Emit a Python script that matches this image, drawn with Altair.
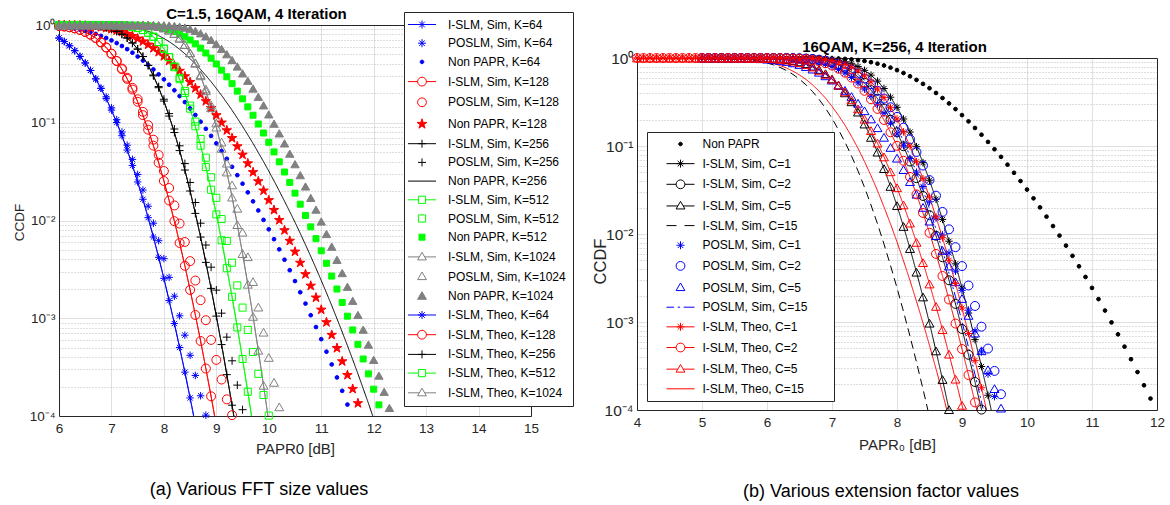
import altair as alt
import pandas as pd

# ---------------- shared x grids (dB) ----------------
XA = [6.0, 6.1, 6.2, 6.3, 6.4, 6.5, 6.6, 6.7, 6.8, 6.9, 7.0, 7.1, 7.2, 7.3, 7.4, 7.5, 7.6, 7.7, 7.8, 7.9,
      8.0, 8.1, 8.2, 8.3, 8.4, 8.5, 8.6, 8.7, 8.8, 8.9, 9.0, 9.1, 9.2, 9.3, 9.4, 9.5, 9.6, 9.7, 9.8, 9.9,
      10.0, 10.1, 10.2, 10.3, 10.4, 10.5, 10.6, 10.7, 10.8, 10.9, 11.0, 11.1, 11.2, 11.3, 11.4, 11.5, 11.6,
      11.7, 11.8, 11.9, 12.0, 12.1, 12.2, 12.3, 12.4]
XB = [4.0, 4.1, 4.2, 4.3, 4.4, 4.5, 4.6, 4.7, 4.8, 4.9, 5.0, 5.1, 5.2, 5.3, 5.4, 5.5, 5.6, 5.7, 5.8, 5.9,
      6.0, 6.1, 6.2, 6.3, 6.4, 6.5, 6.6, 6.7, 6.8, 6.9, 7.0, 7.1, 7.2, 7.3, 7.4, 7.5, 7.6, 7.7, 7.8, 7.9,
      8.0, 8.1, 8.2, 8.3, 8.4, 8.5, 8.6, 8.7, 8.8, 8.9, 9.0, 9.1, 9.2, 9.3, 9.4, 9.5, 9.6, 9.7, 9.8, 9.9,
      10.0, 10.1, 10.2, 10.3, 10.4, 10.5, 10.6, 10.7, 10.8, 10.9, 11.0, 11.1, 11.2, 11.3, 11.4, 11.5, 11.6,
      11.7, 11.8, 11.9, 12.0]

# ---------------- panel (a): CCDF values, starting at 6.0 dB ----------------
A_SLM_64 = [0.736, 0.678, 0.613, 0.546, 0.477, 0.409, 0.343, 0.281, 0.225, 0.1767, 0.1347, 0.1005, 0.0737,
            0.0526, 0.0366, 0.0248, 0.01648, 0.0107, 0.00677, 0.0042, 0.00256, 0.001516, 0.000883, 0.000502,
            0.000281, 0.000153, 0.000082]
A_POS_64 = [0.736, 0.678, 0.613, 0.546, 0.477, 0.409, 0.343, 0.281, 0.225, 0.1838, 0.142, 0.1076, 0.0805,
            0.0589, 0.0422, 0.0296, 0.0205, 0.0140, 0.00938, 0.00621, 0.00407, 0.00262, 0.00168, 0.00106,
            0.000671, 0.000418, 0.00026, 0.000161, 0.000102]
A_NP_64 = [0.9646, 0.9525, 0.937, 0.919, 0.897, 0.872, 0.843, 0.811, 0.775, 0.737, 0.696, 0.653, 0.610, 0.566,
           0.521, 0.476, 0.433, 0.391, 0.351, 0.313, 0.278, 0.245, 0.215, 0.1874, 0.1626, 0.1402, 0.1201,
           0.1025, 0.0868, 0.0734, 0.0615, 0.0514, 0.0428, 0.0354, 0.0291, 0.0238, 0.0194, 0.0157, 0.01266,
           0.01015, 0.00813, 0.00644, 0.00507, 0.00397, 0.0031, 0.0024, 0.001845, 0.001413, 0.001074,
           0.000813, 0.000611, 0.000455, 0.000337, 0.000248, 0.000181, 0.000131]
A_SLM_128 = [0.9786, 0.966, 0.948, 0.9235, 0.890, 0.8486, 0.7968, 0.7359, 0.6649, 0.5894, 0.5089, 0.4285,
             0.3525, 0.281, 0.2185, 0.164, 0.1196, 0.0849, 0.0583, 0.0390, 0.02537, 0.0160, 0.00984, 0.00589,
             0.00344, 0.00195, 0.00108, 0.000585, 0.000306, 0.000159, 0.0000798]
A_POS_128 = [0.9786, 0.966, 0.948, 0.9235, 0.890, 0.8486, 0.7968, 0.7359, 0.6649, 0.5894, 0.5089, 0.4285,
             0.359, 0.289, 0.2277, 0.174, 0.1294, 0.0944, 0.0671, 0.0468, 0.0321, 0.0215, 0.01426, 0.0093,
             0.00603, 0.00384, 0.00243, 0.00153, 0.000955, 0.0006, 0.000375, 0.000236, 0.000148, 0.000102]
A_NP_128 = [0.9987, 0.9978, 0.996, 0.9934, 0.9894, 0.9836, 0.9754, 0.9644, 0.9495, 0.931, 0.9077, 0.8797,
            0.848, 0.811, 0.7705, 0.7258, 0.6786, 0.6296, 0.579, 0.5284, 0.4788, 0.4301, 0.3838, 0.3396,
            0.2987, 0.2607, 0.2258, 0.1945, 0.1661, 0.1414, 0.1194, 0.1003, 0.0836, 0.0696, 0.0573, 0.0471,
            0.0384, 0.0312, 0.02515, 0.02021, 0.01613, 0.0128, 0.01009, 0.00794, 0.00619, 0.0048, 0.00369,
            0.00282, 0.00215, 0.001626, 0.001222, 0.00091, 0.000675, 0.000495, 0.000362, 0.000262,
            0.000189, 0.000135]
A_SLM_256 = [0.9999, 0.9997, 0.9993, 0.9984, 0.9967, 0.9936, 0.9879, 0.9784, 0.9629, 0.9401, 0.9069, 0.8619,
             0.8053, 0.7359, 0.6555, 0.5669, 0.4755, 0.386, 0.302, 0.2283, 0.1667, 0.117, 0.0794, 0.0519,
             0.03284, 0.02003, 0.01182, 0.00677, 0.00373, 0.00202, 0.001052, 0.000538, 0.000265, 0.000129,
             0.0000605]
A_POS_256 = [0.9999, 0.9997, 0.9993, 0.9984, 0.9967, 0.9936, 0.9879, 0.9784, 0.9629, 0.9401, 0.9069, 0.8619,
             0.8053, 0.7359, 0.6555, 0.5669, 0.4755, 0.386, 0.308, 0.2345, 0.174, 0.124, 0.0863, 0.0581,
             0.0382, 0.0245, 0.01528, 0.00938, 0.00561, 0.00333, 0.00194, 0.001127, 0.000641, 0.000367,
             0.000207, 0.000116]
A_NP_256 = [1.0, 1.0, 1.0, 1.0, 0.9999, 0.9997, 0.9994, 0.9987, 0.9974, 0.9953, 0.9915, 0.9855, 0.9769,
            0.9644, 0.9473, 0.9248, 0.8967, 0.8628, 0.8227, 0.7776, 0.7283, 0.6753, 0.6202, 0.564, 0.5082,
            0.4534, 0.4005, 0.351, 0.3045, 0.2627, 0.2244, 0.1905, 0.1602, 0.1343, 0.1113, 0.0919, 0.0753,
            0.0614, 0.0496, 0.0400, 0.0320, 0.02543, 0.02008, 0.01576, 0.01231, 0.0096, 0.00738, 0.00565,
            0.0043, 0.00325, 0.00244, 0.00182, 0.00135, 0.00099, 0.000724, 0.000525, 0.000378, 0.00027,
            0.000191, 0.000135, 0.000094]
A_SLM_512 = [1.0, 1.0, 1.0, 1.0, 1.0, 1.0, 1.0, 0.9999, 0.9996, 0.9991, 0.9977, 0.9947, 0.989, 0.9784, 0.9604,
             0.9318, 0.8897, 0.8325, 0.7581, 0.6696, 0.5718, 0.4691, 0.3702, 0.2789, 0.2016, 0.1394, 0.092,
             0.0583, 0.0352, 0.02063, 0.01155, 0.00627, 0.00325, 0.001658, 0.000806, 0.000383, 0.000177,
             0.000079]
A_POS_512 = [1.0, 1.0, 1.0, 1.0, 1.0, 1.0, 1.0, 0.9999, 0.9996, 0.9991, 0.9977, 0.9947, 0.989, 0.9784, 0.9604,
             0.9318, 0.8897, 0.8325, 0.7581, 0.6696, 0.5718, 0.4691, 0.3773, 0.2877, 0.2118, 0.150, 0.1028,
             0.0683, 0.0439, 0.0277, 0.01706, 0.01035, 0.00618, 0.0037, 0.00217, 0.001285, 0.00076,
             0.000452, 0.00027, 0.000164, 0.000101]
A_NP_512 = [1.0, 1.0, 1.0, 1.0, 1.0, 1.0, 1.0, 1.0, 1.0, 1.0, 0.9999, 0.9998, 0.9995, 0.9987, 0.9973, 0.9944,
            0.9894, 0.9813, 0.9688, 0.9508, 0.9266, 0.895, 0.8564, 0.8105, 0.7588, 0.7021, 0.6416, 0.5798,
            0.517, 0.4571, 0.3991, 0.3453, 0.2952, 0.2510, 0.2107, 0.1757, 0.1453, 0.1194, 0.0971, 0.0785,
            0.0631, 0.0503, 0.0398, 0.03134, 0.02452, 0.01905, 0.01468, 0.01126, 0.00861, 0.00652, 0.0049,
            0.00365, 0.0027, 0.00199, 0.00145, 0.00105, 0.000759, 0.000541, 0.000383, 0.00027, 0.000188,
            0.00013]
A_SLM_1024 = [1.0, 1.0, 1.0, 1.0, 1.0, 1.0, 1.0, 1.0, 1.0, 1.0, 1.0, 1.0, 1.0, 0.9999, 0.9996, 0.9988, 0.9967,
              0.992, 0.9822, 0.9641, 0.9337, 0.8864, 0.8197, 0.733, 0.6308, 0.5186, 0.4057, 0.302, 0.2121,
              0.1424, 0.09025, 0.05465, 0.0313, 0.01734, 0.00907, 0.00458, 0.002226, 0.001045, 0.00047,
              0.000206, 0.000087]
A_POS_1024 = [1.0, 1.0, 1.0, 1.0, 1.0, 1.0, 1.0, 1.0, 1.0, 1.0, 1.0, 1.0, 1.0, 0.9999, 0.9996, 0.9988, 0.9967,
              0.992, 0.9822, 0.9641, 0.9337, 0.8864, 0.8197, 0.733, 0.6308, 0.5186, 0.411, 0.3097, 0.2213,
              0.152, 0.0997, 0.0634, 0.0386, 0.0231, 0.01333, 0.00759, 0.00426, 0.00237, 0.0013, 0.00072,
              0.000397, 0.000221, 0.000124]
A_NP_1024 = [1.0, 1.0, 1.0, 1.0, 1.0, 1.0, 1.0, 1.0, 1.0, 1.0, 1.0, 1.0, 1.0, 1.0, 1.0, 1.0, 0.9999, 0.9996,
             0.999, 0.9975, 0.9945, 0.9889, 0.9792, 0.9638, 0.9415, 0.9106, 0.8708, 0.8227, 0.766, 0.7045,
             0.638, 0.5706, 0.5025, 0.4383, 0.3763, 0.3199, 0.269, 0.2239, 0.1843, 0.1507, 0.1219, 0.0979,
             0.0779, 0.0615, 0.0483, 0.0377, 0.0291, 0.0223, 0.01703, 0.01292, 0.00977, 0.00728, 0.0054,
             0.00396, 0.0029, 0.0021, 0.00151, 0.00108, 0.000764, 0.000538, 0.000375, 0.000259, 0.000177,
             0.000121]

# ---------------- panel (b): CCDF values ----------------
B_NP = [1.0, 1.0, 1.0, 1.0, 1.0, 1.0, 1.0, 1.0, 1.0, 1.0, 1.0, 1.0, 1.0, 1.0, 0.9999, 0.9997, 0.9994, 0.9987,
        0.9974, 0.9953, 0.9915, 0.9855, 0.9769, 0.9644, 0.9473, 0.9248, 0.8967, 0.8628, 0.8227, 0.7776, 0.7283,
        0.6753, 0.6202, 0.564, 0.5082, 0.4534, 0.4005, 0.351, 0.3045, 0.2627, 0.2244, 0.1905, 0.1602, 0.1343,
        0.1113, 0.0919, 0.0753, 0.0614, 0.0496, 0.0400, 0.0320, 0.02543, 0.02008, 0.01576, 0.01231, 0.0096,
        0.00738, 0.00565, 0.0043, 0.00325, 0.00244, 0.00182, 0.00135, 0.00099, 0.000724, 0.000525, 0.000378,
        0.00027, 0.000191, 0.000135]
B_SIM_1 = [1.0, 1.0, 1.0, 1.0, 1.0, 1.0, 1.0, 1.0, 1.0, 1.0, 1.0, 1.0, 1.0, 0.9998, 0.9995, 0.9988, 0.9974,
           0.9945, 0.9891, 0.9799, 0.9645, 0.9406, 0.9069, 0.86, 0.7995, 0.7245, 0.6388, 0.546, 0.4502, 0.3583,
           0.2751, 0.2028, 0.144, 0.0981, 0.06463, 0.04083, 0.02484, 0.01465, 0.008274, 0.00458, 0.002433,
           0.001263, 0.000631, 0.000312, 0.000147, 0.000068]
B_SIM_2 = [1.0, 1.0, 1.0, 1.0, 1.0, 1.0, 1.0, 1.0, 1.0, 0.9998, 0.9998, 0.9995, 0.9988, 0.9974, 0.9949, 0.9904,
           0.9826, 0.9702, 0.9506, 0.9228, 0.8835, 0.8325, 0.7702, 0.6952, 0.6118, 0.522, 0.4313, 0.3454,
           0.2667, 0.1989, 0.1432, 0.09933, 0.0667, 0.04309, 0.02704, 0.01635, 0.00956, 0.00544, 0.00298,
           0.001606, 0.000833, 0.000424, 0.000208, 0.000101, 0.000047]
B_SIM_5 = [1.0, 1.0, 1.0, 1.0, 1.0, 0.9997, 0.9994, 0.9988, 0.9975, 0.9953, 0.9913, 0.9849, 0.9743, 0.9585,
           0.9356, 0.9036, 0.861, 0.8069, 0.7398, 0.6634, 0.5781, 0.4888, 0.4015, 0.3178, 0.2427, 0.1775,
           0.1253, 0.0851, 0.0553, 0.0347, 0.02098, 0.01218, 0.00683, 0.00368, 0.001924, 0.000969, 0.000469,
           0.000222, 0.000101, 0.000045]
B_SIM_15 = [0.9988, 0.9978, 0.9962, 0.9935, 0.989, 0.9825, 0.9727, 0.959, 0.9391, 0.9133, 0.8782, 0.8352,
            0.7815, 0.7196, 0.6502, 0.5742, 0.4956, 0.4165, 0.3389, 0.2691, 0.2060, 0.1528, 0.1108, 0.0772,
            0.0521, 0.0339, 0.02134, 0.01305, 0.00768, 0.00439, 0.002445, 0.001314, 0.00069, 0.000349,
            0.000173, 0.000083]
B_POS_1 = [1.0, 1.0, 1.0, 1.0, 1.0, 1.0, 1.0, 0.9998, 0.9996, 0.9991, 0.9982, 0.9966, 0.9936, 0.9888, 0.981,
           0.9693, 0.9521, 0.9281, 0.8953, 0.8541, 0.8025, 0.7415, 0.674, 0.5999, 0.5224, 0.4438, 0.3684,
           0.2988, 0.2357, 0.1817, 0.1369, 0.1005, 0.07215, 0.05045, 0.03465, 0.0232, 0.01516, 0.00976, 0.0061,
           0.00378, 0.00229, 0.001364, 0.000791, 0.000458, 0.000256, 0.000142]
B_POS_2 = [1.0, 1.0, 1.0, 1.0, 1.0, 1.0, 1.0, 1.0, 1.0, 0.9999, 0.9997, 0.9994, 0.9987, 0.9973, 0.9949, 0.9905,
           0.9834, 0.9721, 0.9547, 0.9305, 0.8968, 0.8532, 0.8001, 0.7363, 0.6646, 0.5853, 0.5042, 0.4234,
           0.3461, 0.2756, 0.2142, 0.1617, 0.1192, 0.08548, 0.05996, 0.04099, 0.02727, 0.01782, 0.0113,
           0.00709, 0.00432, 0.0026, 0.001521, 0.000885, 0.000499, 0.000278, 0.000151]
B_POS_5 = [0.9999, 0.9998, 0.9996, 0.9992, 0.9985, 0.9973, 0.9953, 0.9923, 0.9875, 0.9806, 0.9704, 0.9564,
           0.9372, 0.9127, 0.8815, 0.8438, 0.7989, 0.7475, 0.6889, 0.6271, 0.561, 0.4939, 0.4287, 0.3651,
           0.306, 0.2514, 0.2029, 0.1613, 0.1255, 0.0963, 0.0727, 0.0539, 0.0394, 0.0283, 0.02006, 0.01399,
           0.00958, 0.0065, 0.00432, 0.00286, 0.00185, 0.00119, 0.000749, 0.000471, 0.000287, 0.000175,
           0.000105]
B_POS_15 = [1.0, 1.0, 1.0, 1.0, 1.0, 1.0, 1.0, 1.0, 1.0, 1.0, 0.9999, 0.9997, 0.9992, 0.9983, 0.9965, 0.993,
            0.9871, 0.977, 0.9609, 0.9372, 0.903, 0.8569, 0.7995, 0.7286, 0.648, 0.5591, 0.4676, 0.3788,
            0.2955, 0.2225, 0.1623, 0.1136, 0.07702, 0.05018, 0.03175, 0.01934, 0.01138, 0.006514, 0.00358,
            0.001938, 0.001009, 0.000516, 0.000254, 0.000123, 0.000058]
B_THEO_1 = [1.0, 1.0, 1.0, 1.0, 1.0, 1.0, 1.0, 1.0, 1.0, 1.0, 1.0, 1.0, 1.0, 1.0, 1.0, 1.0, 1.0, 1.0, 1.0,
            1.0, 1.0, 0.9999, 0.9997, 0.9992, 0.9983, 0.9964, 0.9929, 0.9866, 0.9757, 0.9588, 0.933, 0.8965,
            0.8486, 0.7868, 0.713, 0.6277, 0.5361, 0.4438, 0.3541, 0.2725, 0.2028, 0.1448, 0.0999, 0.06624,
            0.04252, 0.02627, 0.01565, 0.00907, 0.00503, 0.002746, 0.001443, 0.000741, 0.000366, 0.000179,
            0.000084]
B_THEO_2 = [1.0, 1.0, 1.0, 1.0, 1.0, 1.0, 1.0, 1.0, 1.0, 1.0, 1.0, 1.0, 1.0, 1.0, 1.0, 1.0, 1.0, 1.0, 1.0,
            0.9996, 0.9992, 0.9983, 0.9965, 0.9933, 0.9877, 0.9786, 0.9645, 0.9434, 0.9129, 0.8726, 0.8197,
            0.7552, 0.6818, 0.5989, 0.5122, 0.4237, 0.3398, 0.2641, 0.1977, 0.1432, 0.1005, 0.06797, 0.04458,
            0.0282, 0.01734, 0.01032, 0.00594, 0.003334, 0.001801, 0.00096, 0.000493, 0.00025, 0.000122,
            0.000059]
B_THEO_5 = [1.0, 1.0, 1.0, 1.0, 1.0, 1.0, 1.0, 1.0, 1.0, 1.0, 1.0, 1.0, 1.0, 1.0, 0.9997, 0.9994, 0.9988,
            0.9978, 0.9958, 0.9925, 0.9871, 0.9786, 0.9656, 0.9471, 0.9214, 0.8871, 0.8433, 0.7894, 0.7245,
            0.6526, 0.5734, 0.4915, 0.4114, 0.3345, 0.2641, 0.2016, 0.1496, 0.1078, 0.0751, 0.05086, 0.03353,
            0.02138, 0.0133, 0.008025, 0.004727, 0.002702, 0.001503, 0.00082, 0.000431, 0.000224, 0.000113,
            0.000056]
B_THEO_15 = [1.0, 1.0, 1.0, 1.0, 1.0, 1.0, 1.0, 1.0, 0.9997, 0.9995, 0.999, 0.9982, 0.9969, 0.9948, 0.9912,
             0.986, 0.978, 0.967, 0.951, 0.930, 0.9013, 0.8658, 0.821, 0.7686, 0.7087, 0.6416, 0.5703, 0.4962,
             0.4208, 0.3499, 0.2826, 0.2225, 0.172, 0.1288, 0.0941, 0.0667, 0.04607, 0.03109, 0.02033, 0.0130,
             0.00814, 0.004954, 0.002957, 0.001715, 0.000977, 0.000542, 0.000294, 0.000156, 0.00008]

# ---------------- styles ----------------
BLUE, RED, BLACK, GREEN, GRAY = "#0000ff", "#ff0000", "#000000", "#00ff00", "#808080"

M_AST = "M-1,0L1,0M0,-1L0,1M-0.7,-0.7L0.7,0.7M-0.7,0.7L0.7,-0.7"
M_PLUS = "M-1,0L1,0M0,-1L0,1"
M_STAR = ("M0,-1L0.2245,-0.309L0.951,-0.309L0.363,0.118L0.588,0.809L0,0.382L-0.588,0.809"
          "L-0.363,0.118L-0.951,-0.309L-0.2245,-0.309Z")


def circ(r):
    return f"M{-r},0A{r},{r},0,1,1,{r},0A{r},{r},0,1,1,{-r},0Z"


LG_LINE = "M-3.5,0L3.5,0"
LG_AST = "M-1,0L1,0M0,-1L0,1M-0.7,-0.7L0.7,0.7M-0.7,0.7L0.7,-0.7"
LG_PLUS = "M-1,0L1,0M0,-1L0,1"
LG_CIRC = circ(1.1)
LG_SQ = "M-0.9,-0.9L0.9,-0.9L0.9,0.9L-0.9,0.9Z"
LG_TRI = "M0,-1.15L1.1,0.75L-1.1,0.75Z"
LG_DOT = circ(0.45)
LG_FSQ = "M-0.75,-0.75L0.75,-0.75L0.75,0.75L-0.75,0.75Z"
LG_STAR = ("M0,-1.3L0.29,-0.4L1.24,-0.4L0.47,0.15L0.76,1.05L0,0.5L-0.76,1.05L-0.47,0.15"
           "L-1.24,-0.4L-0.29,-0.4Z")
LG_L_AST = LG_LINE + LG_AST
LG_L_PLUS = LG_LINE + LG_PLUS
LG_L_CIRC = "M-3.5,0L-1.1,0M1.1,0L3.5,0" + LG_CIRC
LG_L_SQ = "M-3.5,0L-0.9,0M0.9,0L3.5,0" + LG_SQ
LG_L_TRI = "M-3.5,0L-0.67,0M0.67,0L3.5,0" + LG_TRI
LG_DASH = "M-3.5,0L-1,0M1,0L3.5,0"
LG_DASHDOT = "M-3.5,0L-1.6,0M-0.7,0L-0.1,0M0.8,0L3.5,0"

SOLID, DASH, DASHDOT = [1, 0], [8, 5], [8, 3, 2, 3]

# marker spec: (shape, size, filled)
MK = {
    "ast": (M_AST, 56, False), "circ": ("circle", 80, False), "plus": (M_PLUS, 64, False),
    "sq": ("square", 50, False), "tri": ("triangle-up", 80, False), "dot": ("circle", 14, True),
    "star": (M_STAR, 100, True), "fsq": ("square", 36, True), "ftri": ("triangle-up", 70, True),
}

# series: (name, color, start x, values, line dash or None, marker or None, legend path, legend filled)
A_SERIES = [
    ("I-SLM, Sim, K=64", BLUE, 6.0, A_SLM_64, SOLID, "ast", LG_L_AST, False),
    ("POSLM, Sim, K=64", BLUE, 6.0, A_POS_64, None, "ast", LG_AST, False),
    ("Non PAPR, K=64", BLUE, 6.0, A_NP_64, None, "dot", LG_DOT, True),
    ("I-SLM, Sim, K=128", RED, 6.0, A_SLM_128, SOLID, "circ", LG_L_CIRC, False),
    ("POSLM, Sim, K=128", RED, 6.0, A_POS_128, None, "circ", LG_CIRC, False),
    ("Non PAPR, K=128", RED, 6.0, A_NP_128, None, "star", LG_STAR, True),
    ("I-SLM, Sim, K=256", BLACK, 6.0, A_SLM_256, SOLID, "plus", LG_L_PLUS, False),
    ("POSLM, Sim, K=256", BLACK, 6.0, A_POS_256, None, "plus", LG_PLUS, False),
    ("Non PAPR, K=256", BLACK, 6.0, A_NP_256, SOLID, None, LG_LINE, False),
    ("I-SLM, Sim, K=512", GREEN, 6.0, A_SLM_512, SOLID, "sq", LG_L_SQ, False),
    ("POSLM, Sim, K=512", GREEN, 6.0, A_POS_512, None, "sq", LG_SQ, False),
    ("Non PAPR, K=512", GREEN, 6.0, A_NP_512, None, "fsq", LG_FSQ, True),
    ("I-SLM, Sim, K=1024", GRAY, 6.0, A_SLM_1024, SOLID, "tri", LG_L_TRI, False),
    ("POSLM, Sim, K=1024", GRAY, 6.0, A_POS_1024, None, "tri", LG_TRI, False),
    ("Non PAPR, K=1024", GRAY, 6.0, A_NP_1024, None, "ftri", LG_TRI, True),
    ("I-SLM, Theo, K=64", BLUE, 6.0, A_SLM_64, SOLID, None, LG_L_AST, False),
    ("I-SLM, Theo, K=128", RED, 6.0, A_SLM_128, SOLID, None, LG_L_CIRC, False),
    ("I-SLM, Theo, K=256", BLACK, 6.0, A_SLM_256, SOLID, None, LG_L_PLUS, False),
    ("I-SLM, Theo, K=512", GREEN, 6.0, A_SLM_512, SOLID, None, LG_L_SQ, False),
    ("I-SLM, Theo, K=1024", GRAY, 6.0, A_SLM_1024, SOLID, None, LG_L_TRI, False),
]
B_SERIES = [
    ("Non PAPR", BLACK, 5.0, B_NP, None, "dot", LG_DOT, True),
    ("I-SLM, Sim, C=1", BLACK, 5.0, B_SIM_1, SOLID, "ast", LG_L_AST, False),
    ("I-SLM, Sim, C=2", BLACK, 5.0, B_SIM_2, SOLID, "circ", LG_L_CIRC, False),
    ("I-SLM, Sim, C=5", BLACK, 5.0, B_SIM_5, SOLID, "tri", LG_L_TRI, False),
    ("I-SLM, Sim, C=15", BLACK, 5.0, B_SIM_15, DASH, None, LG_DASH, False),
    ("POSLM, Sim, C=1", BLUE, 5.0, B_POS_1, None, "ast", LG_AST, False),
    ("POSLM, Sim, C=2", BLUE, 5.0, B_POS_2, None, "circ", LG_CIRC, False),
    ("POSLM, Sim, C=5", BLUE, 5.0, B_POS_5, None, "tri", LG_TRI, False),
    ("POSLM, Sim, C=15", BLUE, 5.0, B_POS_15, DASHDOT, None, LG_DASHDOT, False),
    ("I-SLM, Theo, C=1", RED, 4.0, B_THEO_1, SOLID, "ast", LG_L_AST, False),
    ("I-SLM, Theo, C=2", RED, 4.0, B_THEO_2, SOLID, "circ", LG_L_CIRC, False),
    ("I-SLM, Theo, C=5", RED, 4.0, B_THEO_5, SOLID, "tri", LG_L_TRI, False),
    ("I-SLM, Theo, C=15", RED, 4.0, B_THEO_15, SOLID, None, LG_LINE, False),
]

FONT = "Liberation Sans"
TXT = "#262626"
Y_MAJOR = [0.0001, 0.001, 0.01, 0.1, 1.0]
Y_MINOR = [m * d for d in (0.0001, 0.001, 0.01, 0.1) for m in (2, 3, 4, 5, 6, 7, 8, 9)]
Y_LABELS = ("datum.value >= 0.5 ? '10\u2070' : datum.value >= 0.05 ? '10\u207b\u00b9' : "
            "datum.value >= 0.005 ? '10\u207b\u00b2' : datum.value >= 0.0005 ? '10\u207b\u00b3' : '10\u207b\u2074'")


def long_df(xgrid, series):
    rows = []
    for name, _c, start, vals, *_rest in series:
        i0 = xgrid.index(start)
        for k, v in enumerate(vals):
            rows.append((xgrid[i0 + k], v, name))
    return pd.DataFrame(rows, columns=["x", "y", "series"])


def panel(xgrid, series, w, h, xdom, xticks, top_title, top_title_x, xtitle, xtitle_pad,
          ylab_size, ytitle_size, ytitle_x, ytitle_y, caption, caption_dx, caption_offset, leg):
    df = long_df(xgrid, series)
    base = alt.Chart(df)
    xs = alt.Scale(domain=xdom, nice=False, zero=False)
    ys = alt.Scale(type="log", domain=[0.0001, 1], nice=False)
    xn = alt.X("x:Q", scale=xs, axis=None)
    yn = alt.Y("y:Q", scale=ys, axis=None)
    dom = dict(domain=True, domainColor=TXT, domainWidth=1)

    frame_main = base.transform_filter("false").mark_point(opacity=0).encode(
        x=alt.X("x:Q", scale=xs, axis=alt.Axis(
            orient="bottom", values=xticks, grid=True, ticks=False, labelPadding=5, labelFontSize=13.5,
            labelFlush=False, title=xtitle, titlePadding=xtitle_pad, titleFontSize=15, format="d", **dom)),
        y=alt.Y("y:Q", scale=ys, axis=alt.Axis(
            orient="left", values=Y_MAJOR, labelExpr=Y_LABELS, grid=True, ticks=False, labelFlush=False,
            labelPadding=4, labelFontSize=ylab_size, title="CCDF", titleFontSize=ytitle_size,
            titleX=ytitle_x, titleY=ytitle_y, titleBaseline="middle", titleAlign="center", **dom)),
    )
    frame_aux = base.transform_filter("false").mark_point(opacity=0).encode(
        x=alt.X("x:Q", scale=xs, axis=alt.Axis(
            orient="top", labels=False, ticks=False, grid=False, title=top_title,
            titleFontWeight="bold", titleFontSize=15, titleColor="black", titleX=top_title_x, titleY=-4,
            titleAlign="center", titleBaseline="bottom", **dom)),
        y=alt.Y("y:Q", scale=ys, axis=alt.Axis(
            orient="right", values=Y_MINOR, labels=False, ticks=False, grid=True,
            gridDash=[1, 2], gridColor="#bdbdbd", title=None, **dom)),
    )
    layers = [frame_main, frame_aux]
    for name, color, start, vals, dash, mk, lg, lf in series:
        if dash is not None:
            layers.append(base.transform_filter(alt.datum.series == name).mark_line(
                color=color, strokeWidth=1, strokeDash=dash, clip=True).encode(x=xn, y=yn))
    for name, color, start, vals, dash, mk, lg, lf in series:
        if mk is not None:
            shape, size, filled = MK[mk]
            kw = dict(shape=shape, size=size, filled=filled, color=color, strokeWidth=1, opacity=1)
            if filled:
                kw["stroke"] = color
            layers.append(base.transform_filter(alt.datum.series == name)
                          .transform_filter(alt.datum.y >= 0.0001)
                          .mark_point(**kw).encode(x=xn, y=yn))
    # legend entries (label text may carry trailing blank space to widen the box)
    names = [s[0] + leg["suffix"] for s in series]
    legend = alt.Legend(
        orient="none", direction="vertical", title=None, legendX=leg["x"], legendY=leg["y"],
        fillColor="white", strokeColor=TXT, padding=leg["pad"], symbolSize=64, symbolStrokeWidth=1,
        symbolOffset=leg["symoff"], labelOffset=leg["laboff"], labelFont=FONT, labelFontSize=12,
        labelColor="black", rowPadding=leg["rowpad"], labelLimit=400, symbolOpacity=1)
    leg_layer = base.transform_filter("false").mark_point(opacity=1, strokeWidth=1).encode(
        x=xn, y=yn,
        shape=alt.Shape("series:N", scale=alt.Scale(domain=names, range=[s[6] for s in series]), legend=legend),
        stroke=alt.Stroke("series:N", scale=alt.Scale(domain=names, range=[s[1] for s in series]), legend=legend),
        fill=alt.Fill("series:N", scale=alt.Scale(domain=names, range=[s[1] if s[7] else "transparent" for s in series]),
                      legend=legend),
    )
    layers.append(leg_layer)
    return alt.layer(*layers).resolve_axis(x="independent", y="independent").properties(
        width=w, height=h,
        title=alt.TitleParams(caption, orient="bottom", anchor="middle", fontSize=18, font=FONT,
                              fontWeight="normal", color="black", dx=caption_dx, offset=caption_offset),
    )


left = panel(XA, A_SERIES, 472, 391, [6, 15], [6, 7, 8, 9, 10, 11, 12, 13, 14, 15],
             "C=1.5, 16QAM, 4 Iteration", 197, "PAPR0 [dB]", 7, 13.5, 13.5,
             -40, 197, "(a)  Various FFT size values", -36, 24,
             dict(x=345, y=-13, pad=6.5, symoff=5.5, laboff=20, rowpad=6.7, suffix=""))
right = panel(XB, B_SERIES, 520, 352, [4, 12], [4, 5, 6, 7, 8, 9, 10, 11, 12],
              "16QAM, K=256, 4 Iteration", 257, "PAPR\u2080 [dB]", 9, 15.5, 16.5,
              -37, 203, "(b)  Various extension factor values", -16, 30,
              dict(x=10, y=74, pad=6, symoff=21.5, laboff=16, rowpad=7.65,
                   suffix="\u00a0\u00a0\u00a0\u00a0\u00a0\u00a0\u200b"))

# empty spacer that pushes panel (b) down relative to panel (a)
spacer = alt.Chart(pd.DataFrame({"v": [0]})).mark_point(opacity=0).encode(
    x=alt.value(0), y=alt.value(0)).properties(width=520, height=33)
right_col = alt.vconcat(spacer, right, spacing=0, bounds="flush").resolve_scale(
    shape="independent", stroke="independent", fill="independent")

chart = alt.hconcat(left, right_col, spacing=106, bounds="flush").resolve_scale(
    shape="independent", stroke="independent", fill="independent"
).properties(
    padding={"left": 12, "top": 6, "right": 3, "bottom": 0}
).configure(font=FONT, background="white").configure_view(
    stroke=None
).configure_axis(
    labelFont=FONT, labelColor=TXT, titleFont=FONT, titleFontWeight="normal", titleColor=TXT,
    gridColor="#e0e0e0", gridWidth=1
)

chart.save("out.html", embed_options={"renderer": "svg", "actions": False})
